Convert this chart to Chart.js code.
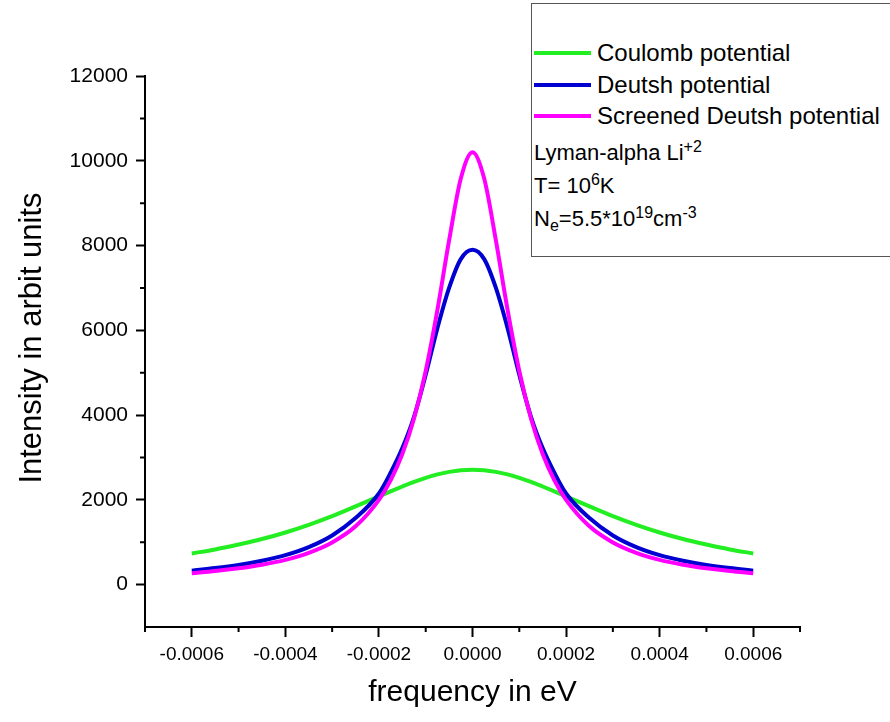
<!DOCTYPE html>
<html>
<head>
<meta charset="utf-8">
<script src="https://cdn.jsdelivr.net/npm/chart.js@4/dist/chart.umd.min.js"></script>
<style>
  html, body { margin: 0; padding: 0; background: #fff; overflow: hidden; }
  #wrap { position: relative; width: 890px; height: 722px; }
  #legendBox {
    position: absolute; left: 531px; top: 3px; width: 400px; height: 254px;
    border: 1.5px solid #555; box-sizing: border-box; background: #fff;
    font-family: "Liberation Sans", Arial, sans-serif; color: #000;
  }
  .row { position: absolute; height: 30px; line-height: 30px; white-space: nowrap; }
  .swatch { position: absolute; left: 2px; width: 57px; height: 4px; }
  .lbl { position: absolute; left: 65px; font-size: 24px; }
  .info { left: 2px; font-size: 22px; }
  sup, sub { font-size: 16px; line-height: 0; }
</style>
</head>
<body>
<div id="wrap">
  <canvas id="lineChart" width="890" height="722"></canvas>
  <div id="legendBox"></div>
</div>
<script>
// 频率 (eV) 与三条谱线强度
const freq = [-0.0006, -0.00055, -0.0005, -0.00045, -0.0004, -0.00035, -0.0003, -0.00025,
  -0.0002, -0.000175, -0.00015, -0.000125, -0.0001, -0.000075, -0.00005, -0.000025, 0,
  0.000025, 0.00005, 0.000075, 0.0001, 0.000125, 0.00015, 0.000175, 0.0002,
  0.00025, 0.0003, 0.00035, 0.0004, 0.00045, 0.0005, 0.00055, 0.0006];

const coulomb = [735, 830, 945, 1075, 1230, 1410, 1615, 1845,
  2080, 2200, 2315, 2425, 2520, 2600, 2660, 2700, 2710,
  2700, 2660, 2600, 2520, 2425, 2315, 2200, 2080,
  1845, 1615, 1410, 1230, 1075, 945, 830, 735];

const deutsh = [330, 390, 465, 565, 695, 885, 1160, 1570,
  2150, 2640, 3220, 3960, 4950, 6050, 7000, 7680, 7900,
  7680, 7000, 6050, 4950, 3960, 3220, 2640, 2150,
  1570, 1160, 885, 695, 565, 465, 390, 330];

const screened = [270, 320, 385, 470, 585, 750, 995, 1375,
  2000, 2460, 3080, 3920, 5040, 6480, 8120, 9580, 10200,
  9580, 8120, 6480, 5040, 3920, 3080, 2460, 2000,
  1375, 995, 750, 585, 470, 385, 320, 270];

const seriesNames = ['Coulomb potential', 'Deutsh potential', 'Screened Deutsh potential'];
const seriesColors = ['#22ee22', '#0000d0', '#ff00ff'];

const xTicks = [-0.0006, -0.0004, -0.0002, 0, 0.0002, 0.0004, 0.0006];
const xMinor = [-0.0007, -0.0005, -0.0003, -0.0001, 0.0001, 0.0003, 0.0005, 0.0007];
const yTicks = [0, 2000, 4000, 6000, 8000, 10000, 12000];
const yMinor = [1000, 3000, 5000, 7000, 9000, 11000];

const yTitle = 'Intensity in arbit units';

const toPoints = arr => arr.map((v, i) => ({ x: freq[i], y: v }));
const fontFamily = '"Liberation Sans", Arial, sans-serif';

// 次刻度 + 纵轴标题
const extras = {
  id: 'extras',
  afterDraw(chart) {
    const { ctx, chartArea, scales } = chart;
    ctx.save();
    ctx.strokeStyle = '#000';
    ctx.lineWidth = 2;
    ctx.beginPath();
    xMinor.forEach(v => {
      const px = scales.x.getPixelForValue(v);
      ctx.moveTo(px, chartArea.bottom);
      ctx.lineTo(px, chartArea.bottom + 5);
    });
    yMinor.forEach(v => {
      const py = scales.y.getPixelForValue(v);
      ctx.moveTo(chartArea.left, py);
      ctx.lineTo(chartArea.left - 5, py);
    });
    ctx.stroke();

    ctx.translate(32, 338);
    ctx.rotate(-Math.PI / 2);
    ctx.fillStyle = '#000';
    ctx.font = '31px ' + fontFamily;
    ctx.textAlign = 'center';
    ctx.textBaseline = 'middle';
    ctx.fillText(yTitle, 0, 0);
    ctx.restore();
  }
};

new Chart(document.getElementById('lineChart').getContext('2d'), {
  type: 'line',
  data: {
    datasets: [coulomb, deutsh, screened].map((arr, i) => ({
      label: seriesNames[i],
      data: toPoints(arr),
      borderColor: seriesColors[i],
      backgroundColor: seriesColors[i],
      borderWidth: 4,
      pointRadius: 0,
      cubicInterpolationMode: 'monotone',
      order: 3 - i
    }))
  },
  options: {
    responsive: false,
    animation: false,
    layout: { padding: { left: 0, top: 76, right: 90, bottom: 0 } },
    scales: {
      x: {
        type: 'linear',
        min: -0.0007,
        max: 0.0007,
        afterBuildTicks: s => { s.ticks = xTicks.map(v => ({ value: v })); },
        afterFit: s => { s.height = 95; },
        border: { color: '#000', width: 2 },
        grid: { drawOnChartArea: false, tickLength: 10, tickColor: '#000', tickWidth: 2 },
        ticks: {
          color: '#000',
          padding: 6,
          maxRotation: 0,
          font: { family: fontFamily, size: 19 },
          callback: v => v.toFixed(4)
        },
        title: {
          display: true,
          text: 'frequency in eV',
          color: '#000',
          font: { family: fontFamily, size: 30 },
          padding: { top: 11, bottom: 11 }
        }
      },
      y: {
        type: 'linear',
        min: -1000,
        max: 12000,
        afterBuildTicks: s => { s.ticks = yTicks.map(v => ({ value: v })); },
        afterFit: s => { s.width = 145; },
        border: { color: '#000', width: 2 },
        grid: { drawOnChartArea: false, tickLength: 9, tickColor: '#000', tickWidth: 2 },
        ticks: {
          color: '#000',
          padding: 8,
          font: { family: fontFamily, size: 21 },
          callback: v => String(v)
        }
      }
    },
    plugins: {
      legend: { display: false },
      tooltip: { enabled: false }
    }
  },
  plugins: [extras]
});

// 图例框
const legendRows = [
  { center: 52, html: seriesNames[0], color: seriesColors[0] },
  { center: 84, html: seriesNames[1], color: seriesColors[1] },
  { center: 115, html: seriesNames[2], color: seriesColors[2] },
  { center: 152, html: 'Lyman-alpha Li<sup>+2</sup>' },
  { center: 185, html: 'T= 10<sup>6</sup>K' },
  { center: 218, html: 'N<sub>e</sub>=5.5*10<sup>19</sup>cm<sup>-3</sup>' }
];
const box = document.getElementById('legendBox');
legendRows.forEach(r => {
  const row = document.createElement('div');
  row.className = 'row';
  row.style.top = (r.center - 3 - 15) + 'px';
  if (r.color) {
    row.innerHTML = '<div class="swatch" style="top:13px;background:' + r.color + '"></div>' +
      '<span class="lbl">' + r.html + '</span>';
  } else {
    row.innerHTML = '<span class="info" style="position:absolute">' + r.html + '</span>';
  }
  box.appendChild(row);
});
</script>
</body>
</html>
